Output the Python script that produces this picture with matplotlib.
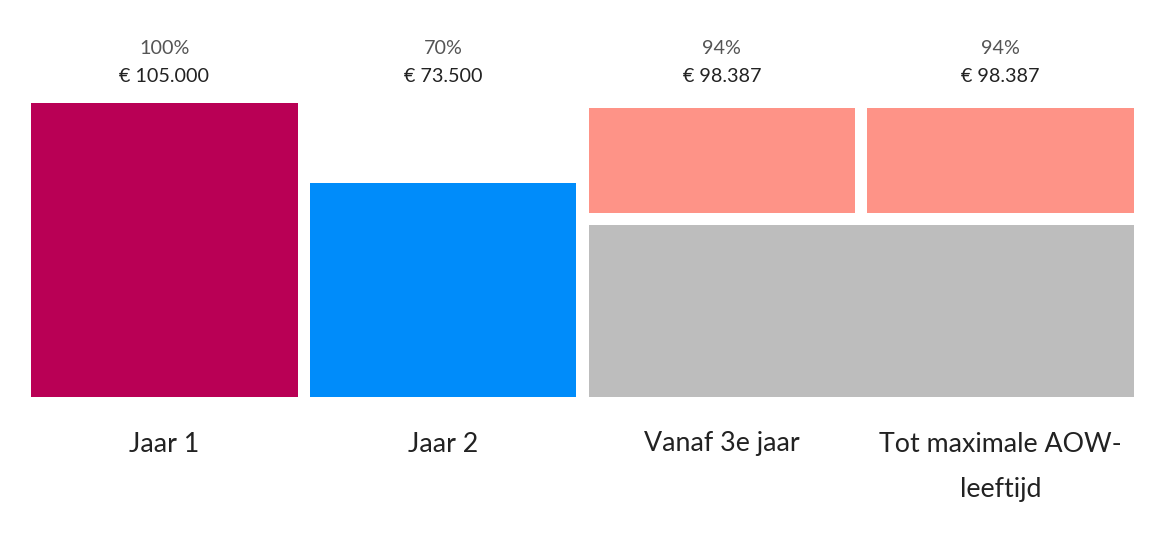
import matplotlib
matplotlib.use("Agg")
import matplotlib.pyplot as plt
from matplotlib import transforms

# ---- data ----
categories = ["Jaar 1", "Jaar 2", "Vanaf 3e jaar", "Tot maximale AOW-\nleeftijd"]
percent_labels = ["100%", "70%", "94%", "94%"]
euro_labels = ["€ 105.000", "€ 73.500", "€ 98.387", "€ 98.387"]
single_values = [105000, 73500]          # Jaar 1, Jaar 2
base_value = 57000                       # grey base spanning columns 3 and 4
top_values = [41387, 41387]              # salmon part for columns 3 and 4

# ---- style ----
W, H, DPI = 1173, 535, 100
Y_MIN = -10762
Y_MAX = 105000
GAP = 4725                                # vertical gap between stacked parts (data units)
BAR_W = 0.9563
colors_single = ["#B90055", "#008CFA"]
color_top = "#FE9387"
color_base = "#BDBDBD"

plt.rcParams["font.family"] = ["Lato", "DejaVu Sans"]

fig = plt.figure(figsize=(W / DPI, H / DPI), dpi=DPI)
ax = fig.add_axes([31 / W, (H - 397) / H, (1134 - 31) / W, (397 - 103) / H])
ax.set_xlim(-BAR_W / 2, 3 + BAR_W / 2)
ax.set_ylim(Y_MIN, Y_MAX)
ax.axis("off")

xs = list(range(len(categories)))

# single bars
for i, v in enumerate(single_values):
    ax.bar(xs[i], v - Y_MIN, bottom=Y_MIN, width=BAR_W, color=colors_single[i],
           linewidth=0)

# grey base spanning two columns
ax.bar((xs[2] + xs[3]) / 2, base_value - Y_MIN, bottom=Y_MIN, width=1 + BAR_W,
       color=color_base, linewidth=0)

# salmon tops
for j, v in enumerate(top_values):
    ax.bar(xs[2 + j], v, bottom=base_value + GAP, width=BAR_W, color=color_top,
           linewidth=0)

trans = transforms.blended_transform_factory(ax.transData, fig.transFigure)
for i in xs:
    ax.text(i, 1 - 49 / H, percent_labels[i], transform=trans, ha="center",
            va="center", fontsize=14.2, color="#555555")
    ax.text(i, 1 - 77 / H, euro_labels[i], transform=trans, ha="center",
            va="center", fontsize=14.2, color="#222222")
    for k, line in enumerate(categories[i].split("\n")):
        ax.text(i, 1 - (444 + 46 * k) / H, line, transform=trans, ha="center",
                va="center", fontsize=19.3, color="#222222")

fig.savefig("out.png", dpi=DPI, facecolor="white")
